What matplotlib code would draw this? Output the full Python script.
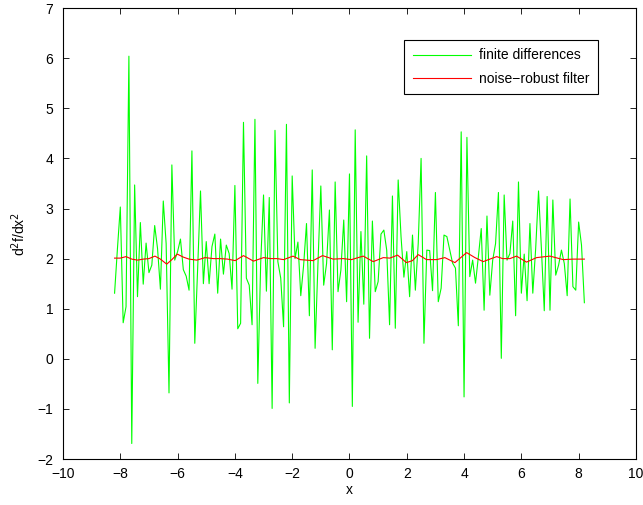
import numpy as np
import matplotlib
matplotlib.use("Agg")
import matplotlib.pyplot as plt

plt.rcParams['font.family'] = ['Liberation Sans', 'DejaVu Sans']

# finite-difference estimate, sampled every 0.1 from -8.2 to 8.2
fd_values = [
  1.31, 2.2, 3.03, 0.72, 1.04, 6.04, -1.69, 3.47, 1.24, 2.72,
  1.49, 2.31, 1.72, 1.87, 2.66, 2.2, 1.39, 3.15, 2.3, -0.68,
  3.87, 1.97, 2.14, 2.39, 1.78, 1.65, 1.37, 4.15, 0.31, 1.8,
  3.35, 1.5, 2.34, 1.5, 2.24, 2.49, 1.31, 2.39, 1.69, 2.27,
  2.1, 1.39, 3.46, 0.6, 0.71, 4.72, 1.61, 1.47, 0.68, 4.78,
  -0.49, 1.9, 3.27, 1.35, 3.22, -0.99, 4.56, 1.94, 1.61, 0.64,
  4.68, -0.88, 3.65, 2.0, 2.33, 1.26, 1.87, 2.7, 0.86, 3.77,
  0.21, 1.9, 3.45, 1.47, 1.9, 2.97, 0.18, 3.53, 1.34, 1.77,
  2.77, 1.14, 3.69, -0.95, 4.57, 0.73, 2.54, 1.09, 4.05, 0.41,
  2.75, 1.34, 1.54, 2.49, 2.57, 2.17, 0.68, 3.25, 0.61, 3.57,
  2.44, 1.63, 2.14, 1.24, 2.47, 1.37, 2.3, 4.0, 0.31, 2.17,
  2.16, 1.36, 3.32, 1.14, 1.41, 2.47, 2.44, 2.17, 1.91, 1.81,
  0.66, 4.53, -0.76, 4.42, 1.64, 1.97, 1.51, 2.04, 2.6, 0.97,
  2.85, 1.27, 1.97, 2.3, 3.32, 0.01, 3.27, 1.97, 2.1, 2.75,
  0.86, 3.53, 1.31, 2.09, 1.16, 2.7, 1.31, 2.2, 3.35, 2.2,
  0.96, 3.24, 0.97, 3.17, 1.67, 1.87, 2.17, 1.9, 1.26, 3.19,
  1.44, 1.37, 2.73, 2.27, 1.12,
]
fd_x = np.linspace(-8.2, 8.2, len(fd_values))

# noise-robust filter output
filt_x = [-8.2, -8.0, -7.8, -7.6, -7.4, -7.2, -7.0, -6.79, -6.6, -6.38,
          -6.2, -6.01, -5.8, -5.6, -5.33, -5.04, -4.75, -4.52, -4.25, -3.99,
          -3.7, -3.35, -3.0, -2.75, -2.53, -2.3, -1.97, -1.72, -1.5, -1.27,
          -0.94, -0.57, -0.22, 0.07, 0.48, 0.83, 1.18, 1.41, 1.68, 1.99,
          2.2, 2.4, 2.69, 3.04, 3.33, 3.68, 4.09, 4.38, 4.67, 4.9,
          5.14, 5.35, 5.6, 5.83, 6.18, 6.53, 7.0, 7.46, 7.8, 8.2]
filt_y = [2.01, 2.01, 2.04, 1.99, 1.97, 1.99, 2.0, 2.05, 1.99, 1.89,
          1.98, 2.09, 2.03, 1.99, 1.97, 2.02, 2.0, 2.0, 1.99, 1.96,
          2.06, 1.95, 2.02, 2.0, 2.0, 1.98, 2.05, 1.98, 1.97, 1.96,
          2.06, 1.99, 2.0, 1.98, 2.05, 1.94, 2.02, 2.01, 2.07, 1.92,
          1.96, 2.08, 1.98, 1.98, 2.02, 1.92, 2.12, 2.02, 1.94, 1.99,
          2.04, 2.0, 2.0, 2.05, 1.93, 2.02, 2.05, 1.98, 1.99, 1.99]

xticks = list(range(-10, 11, 2))
yticks = list(range(-2, 8))

fig = plt.figure(figsize=(6.43, 5.05), dpi=100)
ax = fig.add_axes([0.098, 0.091, 0.891, 0.893])

ax.plot(fd_x, fd_values, color=(0, 1, 0), lw=0.8, label='finite differences')
ax.plot(filt_x, filt_y, color=(1, 0, 0), lw=0.8, label='noise\u2212robust filter')

ax.set_xlim(-10, 10)
ax.set_ylim(-2, 7)
ax.set_xticks(xticks)
ax.set_yticks(yticks)
ax.tick_params(direction='in', top=True, right=True, labelsize=10, length=4, width=0.6)
ax.tick_params(axis='x', pad=6)
ax.tick_params(axis='y', pad=7)
for s in ax.spines.values():
  s.set_linewidth(0.8)

ax.set_xlabel('x', fontsize=10, labelpad=1)
ax.set_ylabel('d$^2$f/dx$^2$', fontsize=10, labelpad=7)

leg = ax.legend(loc='upper right', bbox_to_anchor=(0.934, 0.929), borderaxespad=0,
                fancybox=False, edgecolor='black', framealpha=1, fontsize=10,
                handlelength=4.2, handletextpad=0.6, borderpad=0.6, labelspacing=0.7)
leg.get_frame().set_linewidth(0.8)

fig.savefig('out.png', dpi=100)
